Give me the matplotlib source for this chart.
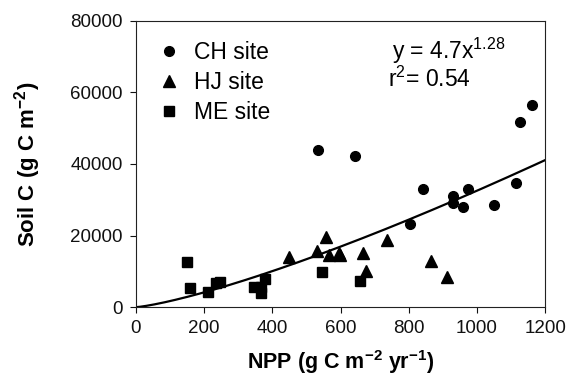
import numpy as np
from matplotlib import pyplot as plt

plt.rcParams['font.family'] = ['Liberation Sans', 'DejaVu Sans']
plt.rcParams['mathtext.fontset'] = 'custom'
plt.rcParams['mathtext.rm'] = 'Liberation Sans'
plt.rcParams['mathtext.bf'] = 'Liberation Sans:bold'
plt.rcParams['mathtext.it'] = 'Liberation Sans:italic'

# CH site
ch_npp = [533, 641, 843, 803, 931, 931, 958, 973, 1049, 1115, 1125, 1162]
ch_soil = [43900, 42200, 32900, 23300, 31100, 29200, 28100, 32900, 28500, 34800, 51700, 56500]
# HJ site
hj_npp = [450, 532, 557, 565, 594, 597, 665, 674, 735, 865, 912]
hj_soil = [13900, 15800, 19500, 14600, 15100, 14600, 15100, 10200, 18800, 12900, 8500]
# ME site
me_npp = [150, 158, 211, 235, 247, 347, 366, 367, 379, 547, 657]
me_soil = [12600, 5400, 4100, 6700, 6900, 5600, 3900, 5700, 7800, 9700, 7300]

# power fit y = a * x^b
fit_a = 4.7
fit_b = 1.28

fig = plt.figure(figsize=(5.69, 3.83), dpi=100)
ax = fig.add_axes([0.239, 0.198, 0.719, 0.748])

ax.plot(ch_npp, ch_soil, 'o', color='black', markersize=7, label='CH site')
ax.plot(hj_npp, hj_soil, '^', color='black', markersize=8, label='HJ site')
ax.plot(me_npp, me_soil, 's', color='black', markersize=6.5, label='ME site')

xfit = np.linspace(0, 1200, 200)
ax.plot(xfit, fit_a * xfit ** fit_b, color='black', linewidth=1.6)

ax.set_xlim(0, 1200)
ax.set_ylim(0, 80000)
ax.set_xticks(range(0, 1201, 200))
ax.set_yticks(range(0, 80001, 20000))
ax.tick_params(direction='out', length=4, width=0.8, labelsize=13.5, pad=5.5,
               colors='#111111')
for s in ax.spines.values():
    s.set_linewidth(0.8)
    s.set_color('#222222')

ax.set_xlabel(r'NPP (g C m$^{\mathbf{-2}}$ yr$^{\mathbf{-1}}$)', fontsize=15.5,
              fontweight='bold', labelpad=8)
ax.set_ylabel(r'Soil C (g C m$^{\mathbf{-2}}$)', fontsize=16, fontweight='bold',
              labelpad=20)

ax.legend(loc='upper left', frameon=False, fontsize=16.5, handletextpad=0.55,
          labelspacing=0.3, borderaxespad=0.5, handlelength=1.1)

ax.text(0.625, 0.866, r'y = 4.7x$^{1.28}$', transform=ax.transAxes, fontsize=16.5,
        ha='left', va='baseline')
ax.text(0.616, 0.770, r'r$^{2}$= 0.54', transform=ax.transAxes, fontsize=16.5,
        ha='left', va='baseline')

plt.savefig('out.png', dpi=100)
